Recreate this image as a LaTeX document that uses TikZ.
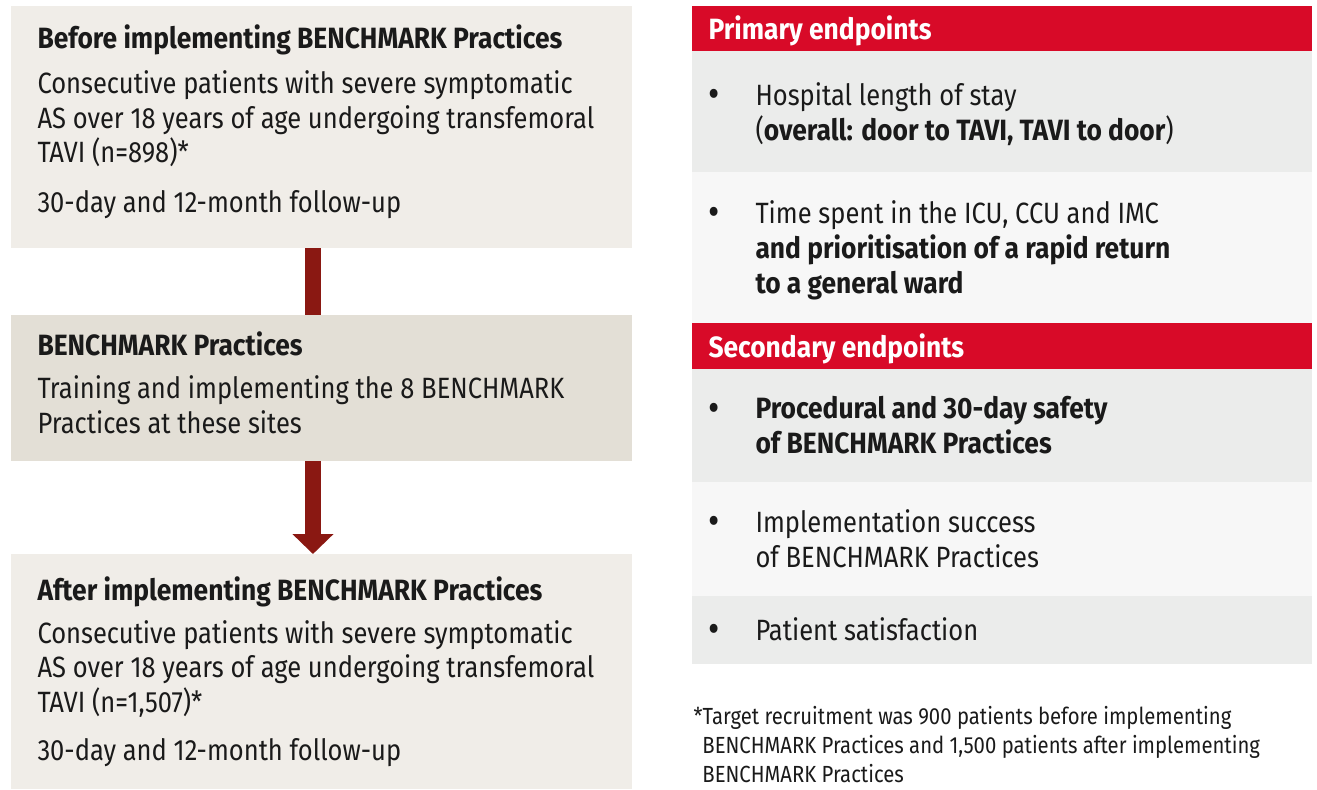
\documentclass[tikz,border=0pt]{standalone}
\usepackage{fontspec}
\setmainfont{Fira Sans}[FakeStretch=0.87,BoldFeatures={FakeStretch=0.9}]
\usetikzlibrary{arrows.meta,backgrounds}

\definecolor{paleband}{RGB}{240,237,232}
\definecolor{midband}{RGB}{227,223,214}
\definecolor{arrowred}{RGB}{138,24,18}
\definecolor{headred}{RGB}{216,10,40}
\definecolor{rowdark}{RGB}{235,236,235}
\definecolor{rowlight}{RGB}{247,247,247}
\definecolor{inkgrey}{RGB}{26,26,26}

\tikzset{every picture/.style={line width=0.75pt}}

\begin{document}
\begin{tikzpicture}[x=0.75pt,y=0.75pt,yscale=-1,xscale=1,
	panel/.style 2 args={anchor=north west, inner sep=0pt, outer sep=0pt, draw=none,
		minimum width=#1*0.75pt, minimum height=#2*0.75pt},
	txt/.style={anchor=base west, inner sep=0pt, align=left, text=inkgrey, font=\fontsize{22}{25.9}\selectfont},
	headtxt/.style={txt, text=white, font=\fontsize{22}{25.9}\selectfont\bfseries},
	dot/.style={txt, font=\fontsize{30}{30}\selectfont},
	note/.style={txt, font=\fontsize{17.5}{21.4}\selectfont},
	flow/.style={arrowred, line width=12pt, -{Triangle[width=30pt,length=15pt]}}]
	\useasboundingbox (0,0) rectangle (1317,789);
	
	%Left column boxes
	\node [panel={621}{242}, fill=paleband] (before) at (11,6) {};
	\node [panel={621}{146}, fill=midband] (practices) at (11,315) {};
	\node [panel={621}{235}, fill=paleband] (after) at (11,554) {};
	
	%Flow arrow, behind the middle box
	\begin{scope}[on background layer]
		\draw [flow] ([xshift=-6.4pt]before.south) -- ([xshift=-6.4pt]after.north);
	\end{scope}
	
	% Text Node (base = last line)
	\node [txt] (beforetext) at (37,212) {\textbf{Before implementing BENCHMARK Practices}\\[8pt]
		Consecutive patients with severe symptomatic\\
		AS over 18 years of age undergoing transfemoral\\
		TAVI (n=898)*\\[11pt]
		30-day and 12-month follow-up};
	% Text Node
	\node [txt] (practicestext) at (37,433) {\textbf{BENCHMARK Practices}\\[6pt]
		Training and implementing the 8 BENCHMARK\\
		Practices at these sites};
	% Text Node
	\node [txt] (aftertext) at (37,760) {\textbf{After implementing BENCHMARK Practices}\\[6pt]
		Consecutive patients with severe symptomatic\\
		AS over 18 years of age undergoing transfemoral\\
		TAVI (n=1,507)*\\[10pt]
		30-day and 12-month follow-up};
	
	%Right column rows
	\node [panel={620}{45}, fill=headred] (primary) at (692,6) {};
	\node [panel={620}{121}, fill=rowdark] (stayrow) at (692,51) {};
	\node [panel={620}{151}, fill=rowlight] (icurow) at (692,172) {};
	\node [panel={620}{46}, fill=headred] (secondary) at (692,323) {};
	\node [panel={620}{113}, fill=rowdark] (safetyrow) at (692,369) {};
	\node [panel={620}{114}, fill=rowlight] (successrow) at (692,482) {};
	\node [panel={620}{68}, fill=rowdark] (satisfactionrow) at (692,596) {};
	
	% Text Node
	\node [headtxt] (primarytext) at (708,39) {Primary endpoints};
	\node [headtxt] (secondarytext) at (708,357) {Secondary endpoints};
	
	% Bullets
	\foreach \y/\name in {105/stay,223/icu,419/safety,532/success,640/satisfaction}
		\node [dot] (\name bullet) at (708,\y+2) {•};
	
	% Text Node
	\node [txt] (staytext) at (755,140) {Hospital length of stay\\
		(\textbf{overall: door to TAVI, TAVI to door})};
	% Text Node
	\node [txt] (icutext) at (755,293) {Time spent in the ICU, CCU and IMC\\
		\textbf{and prioritisation of a rapid return}\\
		\textbf{to a general ward}};
	% Text Node
	\node [txt] (safetytext) at (755,453) {\textbf{Procedural and 30-day safety}\\
		\textbf{of BENCHMARK Practices}};
	% Text Node
	\node [txt] (successtext) at (755,567) {Implementation success\\
		of BENCHMARK Practices};
	% Text Node
	\node [txt] (satisfactiontext) at (755,640) {Patient satisfaction};
	
	% Footnote
	\node [note] (footnote) at (693,782) {*Target recruitment was 900 patients before implementing\\
		\hphantom{*}BENCHMARK Practices and 1,500 patients after implementing\\
		\hphantom{*}BENCHMARK Practices};
	
\end{tikzpicture}
\end{document}
